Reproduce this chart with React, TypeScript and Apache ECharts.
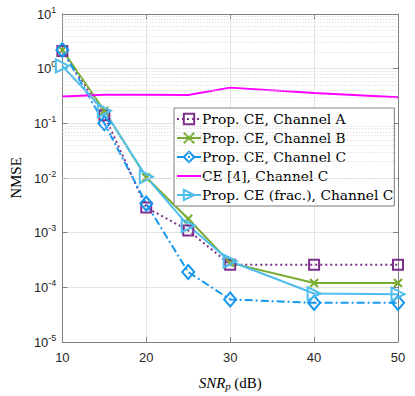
import React, { useEffect, useRef } from "react";
import * as echarts from "echarts";

const snr = [10, 15, 20, 25, 30, 40, 50];
const chanA = [2.1, 0.14, 0.0029, 0.0011, 0.00026, 0.00026, 0.00026];
const chanB = [2.2, 0.17, 0.0102, 0.0018, 0.00028, 0.00012, 0.00012];
const chanC = [2.2, 0.1, 0.0034, 0.00019, 0.00006, 0.000052, 0.000052];
const ce4C = [0.31, 0.335, 0.335, 0.33, 0.45, 0.36, 0.3];
const fracC = [1.12, 0.17, 0.0105, 0.00135, 0.0003, 0.000077, 0.000075];

const names = [
  "Prop. CE, Channel A",
  "Prop. CE, Channel B",
  "Prop. CE, Channel C",
  "CE [4], Channel C",
  "Prop. CE (frac.), Channel C",
];

export default function App() {
  const ref = useRef<HTMLDivElement>(null);
  useEffect(() => {
    if (!ref.current) return;
    const chart = echarts.init(ref.current, null, { renderer: "svg" });
    const pairs = (arr: number[]) => snr.map((x, i) => [x, arr[i]]);
    const minorVals: number[] = [];
    for (let d = -5; d < 1; d++) {
      for (let k = 2; k <= 9; k++) minorVals.push(k * Math.pow(10, d));
    }
    const axisColor = "#808080";
    const labelColor = "#262626";
    const sansFont = "Liberation Sans";
    const serifFont = "Liberation Serif";
    const legendFont = "DejaVu Serif";
    const yAxisBase = {
      type: "log",
      logBase: 10,
      min: 1e-5,
      max: 10,
      axisLine: { show: true, lineStyle: { color: axisColor, width: 1 } },
      axisTick: { show: true, inside: true, length: 5, lineStyle: { color: axisColor } },
    };
    const xAxisBase = {
      type: "value",
      min: 10,
      max: 50,
      interval: 10,
      axisLine: { show: true, onZero: false, lineStyle: { color: axisColor, width: 1 } },
      axisTick: { show: true, inside: true, length: 5, lineStyle: { color: axisColor } },
    };
    const col = {
      A: "#7E2F8E",
      B: "#77AC30",
      C: "#1597F0",
      M: "#FF00FF",
      F: "#4DBEEE",
    };
    const open = (c: string) => ({ color: "rgba(255,255,255,0)", borderColor: c, borderWidth: 2 });
    chart.setOption({
      animation: false,
      grid: { left: 49, right: 17, top: 14, bottom: 44, containLabel: false },
      legend: {
        orient: "vertical",
        left: 174,
        top: 108,
        backgroundColor: "#ffffff",
        borderColor: "#7a7a7a",
        borderWidth: 1,
        borderRadius: 0,
        padding: [4, 1, 4, 2],
        itemGap: 5,
        itemWidth: 24,
        itemHeight: 13,
        data: names.map((n, i) =>
          i === 3 ? { name: n, itemStyle: { color: "rgba(0,0,0,0)", borderWidth: 0 } } : { name: n }
        ),
        textStyle: { fontFamily: legendFont, fontSize: 13.8, color: "#000", padding: [0, 0, 0, -4] },
      },
      xAxis: [
        {
          ...xAxisBase,
          position: "bottom",
          axisLabel: { color: labelColor, fontFamily: sansFont, fontSize: 13, margin: 9 },
          splitLine: { show: true, lineStyle: { color: "#e3e3e3", width: 1 } },
          name: "{i|SNR}{s|p} {n|(dB)}",
          nameLocation: "middle",
          nameGap: 32,
          nameTextStyle: {
            rich: {
              i: { fontFamily: serifFont, fontStyle: "italic", fontSize: 15, color: "#000" },
              s: { fontFamily: serifFont, fontStyle: "italic", fontSize: 11, color: "#000", padding: [6, 0, 0, 0] },
              n: { fontFamily: serifFont, fontSize: 15, color: "#000" },
            },
          },
        },
        {
          ...xAxisBase,
          position: "top",
          axisLabel: { show: false },
          splitLine: { show: false },
        },
      ],
      yAxis: [
        {
          ...yAxisBase,
          position: "left",
          axisLabel: {
            color: labelColor,
            fontFamily: sansFont,
            fontSize: 13,
            margin: 6,
            formatter: (v: number) => `{b|10}{s|${Math.round(Math.log10(v))}}`,
            rich: {
              b: { fontFamily: sansFont, fontSize: 13, color: labelColor },
              s: { fontFamily: sansFont, fontSize: 9, color: labelColor, padding: [0, 0, 9, 0] },
            },
          },
          splitLine: { show: true, lineStyle: { color: "#e3e3e3", width: 1 } },
          name: "NMSE",
          nameLocation: "middle",
          nameGap: 35,
          nameTextStyle: { fontFamily: serifFont, fontSize: 15, color: "#000" },
        },
        {
          ...yAxisBase,
          position: "right",
          axisLabel: { show: false },
          splitLine: { show: false },
        },
      ],
      series: [
        {
          type: "line",
          name: "minor",
          data: [],
          silent: true,
          markLine: {
            silent: true,
            symbol: ["none", "none"],
            label: { show: false },
            lineStyle: { color: "#d6d6d6", type: [1, 2], width: 1 },
            data: minorVals.map((v) => ({ yAxis: v })),
          },
        },
        {
          type: "line",
          name: names[0],
          data: pairs(chanA),
          symbol: "rect",
          symbolSize: 10,
          lineStyle: { color: col.A, width: 2, type: [2, 3] },
          itemStyle: open(col.A),
          z: 3,
        },
        {
          type: "line",
          name: names[1],
          data: pairs(chanB),
          symbol: "path://M0,0L10,10M0,10L10,0",
          symbolSize: 8,
          lineStyle: { color: col.B, width: 2 },
          itemStyle: open(col.B),
          z: 3,
        },
        {
          type: "line",
          name: names[2],
          data: pairs(chanC),
          symbol: "diamond",
          symbolSize: [12, 14],
          lineStyle: { color: col.C, width: 2, type: [8, 3, 2, 3] },
          itemStyle: open(col.C),
          z: 3,
        },
        {
          type: "line",
          name: names[3],
          data: pairs(ce4C),
          symbol: "none",
          lineStyle: { color: col.M, width: 2 },
          itemStyle: { color: col.M },
          z: 3,
        },
        {
          type: "line",
          name: names[4],
          data: pairs(fracC),
          symbol: "path://M0,0L10,5L0,10Z",
          symbolSize: [13, 13],
          lineStyle: { color: col.F, width: 2 },
          itemStyle: open(col.F),
          z: 3,
        },
      ],
    });
    return () => chart.dispose();
  }, []);
  return <div ref={ref} style={{ width: 415, height: 396, position: "absolute", left: 0, top: 0 }} />;
}
